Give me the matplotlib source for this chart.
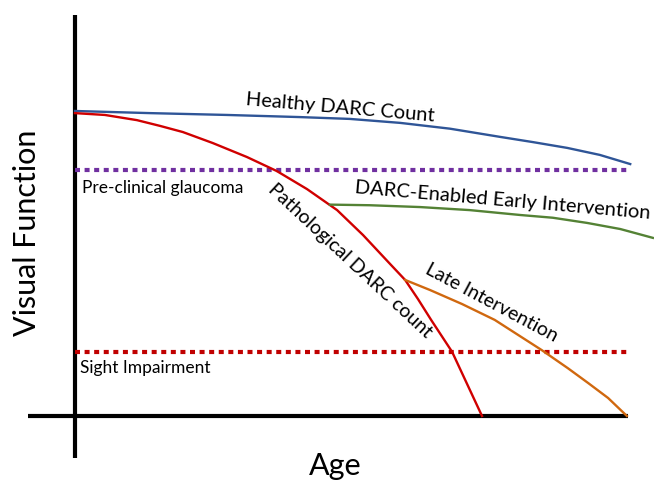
import matplotlib
matplotlib.use("Agg")
import matplotlib.pyplot as plt

plt.rcParams['font.family'] = ['Lato', 'DejaVu Sans']

# conceptual curves, age 0-100, visual function 0-100
healthy_age = [0, 13.6, 27.5, 40.7, 49.7, 58.8, 67.8, 76.9, 82.8, 89.0, 94.9, 100.4]
healthy_vf = [100.0, 99.3, 98.7, 98.0, 97.4, 96.1, 94.2, 91.5, 89.8, 87.9, 85.6, 82.6]

patho_age = [0, 5.4, 11.2, 15.4, 19.5, 24.9, 31.1, 36.5, 41.95, 47.4, 52.1, 57.0,
             59.7, 62.0, 64.4, 68.2, 70.9, 73.6]
patho_vf = [99.3, 98.7, 97.0, 95.1, 93.1, 89.5, 84.9, 80.3, 74.4, 67.5, 59.3, 49.8,
            44.6, 38.4, 31.5, 21.0, 10.5, 0]

early_age = [46.1, 53.3, 62.4, 71.4, 80.5, 86.4, 92.6, 98.6, 104.5]
early_vf = [69.3, 69.1, 68.5, 67.5, 65.9, 65.0, 63.3, 61.3, 58.4]

late_age = [59.7, 64.2, 70.0, 75.9, 84.4, 89.1, 92.8, 96.4, 99.8]
late_vf = [44.6, 41.3, 36.7, 31.5, 21.6, 15.7, 10.8, 5.9, 0]

preclinical_level = 80.7
impairment_level = 21.0
age_end = 100

fig = plt.figure(figsize=(6.54, 4.84), dpi=100)
ax = fig.add_axes([0, 0, 1, 1])
ax.set_xlim(-13.56, 104.70)
ax.set_ylim(-22.30, 136.39)
ax.axis('off')

# axes drawn by hand, crossing style
ax.plot([0, 0], [-13.8, 131.5], color='black', lw=3, solid_capstyle='butt')
ax.plot([-8.5, age_end], [0, 0], color='black', lw=3, solid_capstyle='butt')

# threshold lines
ax.plot([0, age_end], [preclinical_level] * 2, color='#7030A0', lw=3,
        linestyle=(0, (1.2, 1.1)))
ax.plot([0, age_end], [impairment_level] * 2, color='#C00000', lw=3,
        linestyle=(0, (1.2, 1.1)))

ax.plot(healthy_age, healthy_vf, color='#2F5597', lw=1.7)
ax.plot(patho_age, patho_vf, color='#D00000', lw=1.7)
ax.plot(early_age, early_vf, color='#548235', lw=1.7)
ax.plot(late_age, late_vf, color='#D0680F', lw=1.7)

ax.text(47.9, 101.2, 'Healthy DARC Count', fontsize=14.5, rotation=-5,
        ha='center', va='center', rotation_mode='anchor')
ax.text(77.4, 70.8, 'DARC-Enabled Early Intervention', fontsize=14.5, rotation=-5,
        ha='center', va='center', rotation_mode='anchor')
ax.text(49.8, 50.8, 'Pathological DARC count', fontsize=14, rotation=-43,
        ha='center', va='center', rotation_mode='anchor')
ax.text(75.4, 37.0, 'Late Intervention', fontsize=14, rotation=-28,
        ha='center', va='center', rotation_mode='anchor')
ax.text(1.3, 74.8, 'Pre-clinical glaucoma', fontsize=12.5, ha='left', va='center')
ax.text(0.9, 15.7, 'Sight Impairment', fontsize=12.5, ha='left', va='center')

ax.text(-8.7, 60, 'Visual Function', fontsize=22, rotation=90,
        ha='center', va='center')
ax.text(47.0, -16.4, 'Age', fontsize=22, ha='center', va='center')

fig.savefig('out.png', dpi=100)
